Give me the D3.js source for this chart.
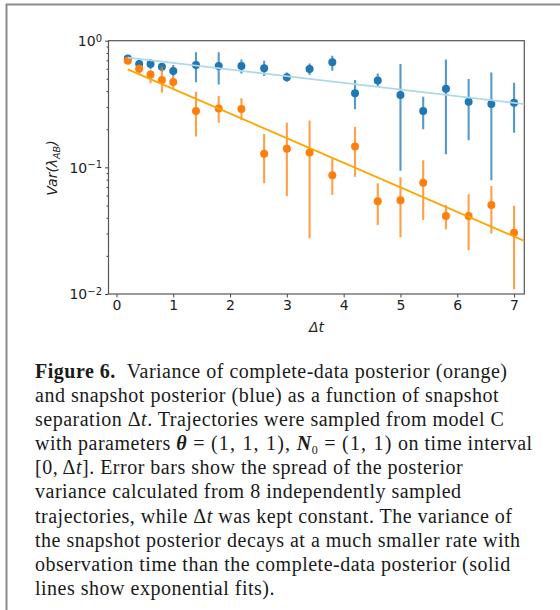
<!DOCTYPE html>
<html lang="en">
<head>
<meta charset="UTF-8">
<title>Figure 6</title>
<script src="https://d3js.org/d3.v7.min.js"></script>
<style>
body { margin: 0; background: #fff; }
#wrap { position: relative; width: 560px; height: 610px; overflow: hidden; }
svg { position: absolute; left: 0; top: 0; }
.axis path, .axis line { stroke: #444; }
.axis text { font-family: "DejaVu Sans", sans-serif; font-size: 14px; fill: #222; }
.caption { position: absolute; left: 35px; top: 359px; font-family: "Liberation Serif", "Times New Roman", serif;
  font-size: 20px; line-height: 24.1px; letter-spacing: 0.5px; color: #1a1a1a; white-space: nowrap; }
.caption b { font-weight: bold; }
.caption .eq { padding: 0 6px; }
.caption .tup { letter-spacing: 1.2px; }
.caption .sub { font-size: 12px; line-height: 0; vertical-align: -4px; }
</style>
</head>
<body>
<div id="wrap"></div>
<script>
// snapshot separation
var dt = [0.2, 0.4, 0.6, 0.8, 1.0, 1.4, 1.8, 2.2, 2.6, 3.0, 3.4, 3.8, 4.2, 4.6, 5.0, 5.4, 5.8, 6.2, 6.6, 7.0];

// snapshot posterior (blue)
var blueVar = [0.725, 0.654, 0.654, 0.623, 0.576, 0.643, 0.631, 0.631, 0.605, 0.514,
               0.597, 0.675, 0.384, 0.486, 0.372, 0.279, 0.418, 0.330, 0.316, 0.324];
var blueLo  = [0.695, 0.605, 0.594, 0.569, 0.520, 0.469, 0.452, 0.552, 0.526, 0.475,
               0.536, 0.580, 0.287, 0.433, 0.094, 0.200, 0.127, 0.164, 0.079, 0.188];
var blueHi  = [0.757, 0.703, 0.717, 0.662, 0.643, 0.809, 0.809, 0.712, 0.695, 0.562,
               0.662, 0.762, 0.489, 0.552, 0.654, 0.361, 0.712, 0.498, 0.562, 0.466];

// complete-data posterior (orange)
var orangeVar = [0.695, 0.601, 0.542, 0.489, 0.472, 0.279, 0.292, 0.289, 0.128, 0.140,
                 0.131, 0.0865, 0.146, 0.0539, 0.0549, 0.0757, 0.0413, 0.0413, 0.0504, 0.0305];
var orangeLo  = [0.662, 0.542, 0.461, 0.388, 0.421, 0.175, 0.225, 0.236, 0.0748, 0.0594,
                 0.0275, 0.0605, 0.0844, 0.0351, 0.0280, 0.0384, 0.0324, 0.0222, 0.0301, 0.0109];
var orangeHi  = [0.748, 0.643, 0.587, 0.623, 0.520, 0.396, 0.366, 0.351, 0.183, 0.225,
                 0.234, 0.118, 0.209, 0.0748, 0.0834, 0.114, 0.0504, 0.0612, 0.0713, 0.0498];

// exponential fits, end points
var fitT = [0.2, 7.3];
var blueFit = [0.734, 0.312];
var orangeFit = [0.594, 0.0249];

var xTicks = [0, 1, 2, 3, 4, 5, 6, 7];
var yTicks = [0.01, 0.1, 1];
var yTickExp = ["\u22122", "\u22121", "0"];

var width = 560, height = 610;
var plot = {left: 108.5, right: 524.3, top: 40.7, bottom: 294};

var svg = d3.select('#wrap').append('svg')
    .attr('width', width).attr('height', height);

// outer figure frame
svg.append('path')
   .attr('d', 'M6.5,' + height + 'V4.5H' + width)
   .attr('fill', 'none').attr('stroke', '#8a8a8a').attr('stroke-width', 2);

var xScale = d3.scaleLinear().domain([-0.14, 7.18]).range([plot.left, plot.right]);
var yScale = d3.scaleLog().domain([0.01, 1]).range([plot.bottom, plot.top]);

svg.append('clipPath').attr('id', 'clip')
   .append('rect')
   .attr('x', plot.left).attr('y', plot.top)
   .attr('width', plot.right - plot.left).attr('height', plot.bottom - plot.top);

// axes
var xAxis = d3.axisBottom(xScale).tickValues(xTicks).tickFormat(d3.format('d'))
    .tickSize(3.5).tickPadding(3);
svg.append('g').attr('class', 'axis')
   .attr('transform', 'translate(0,' + plot.bottom + ')')
   .call(xAxis)
   .call(function(g){ g.select('.domain').remove(); });

var minor = [];
[0.01, 0.1].forEach(function(d){ for (var k = 2; k <= 9; k++) minor.push(d * k); });
svg.append('g').attr('class', 'axis')
   .attr('transform', 'translate(' + plot.left + ',0)')
   .call(d3.axisLeft(yScale).tickValues(minor).tickSize(2).tickFormat(''))
   .call(function(g){ g.select('.domain').remove(); });

var yAxis = d3.axisLeft(yScale).tickValues(yTicks).tickSize(3.5).tickPadding(4).tickFormat('');
var yg = svg.append('g').attr('class', 'axis')
   .attr('transform', 'translate(' + plot.left + ',0)')
   .call(yAxis)
   .call(function(g){ g.select('.domain').remove(); });

yg.selectAll('.tick').append('text')
   .attr('x', -6.5).attr('dy', '0.35em')
   .attr('text-anchor', 'end')
   .each(function(d, i){
       var t = d3.select(this);
       t.append('tspan').text('10');
       t.append('tspan').attr('dy', '-0.45em').attr('font-size', '10px').text(yTickExp[i]);
   });

// frame
svg.append('rect')
   .attr('x', plot.left).attr('y', plot.top)
   .attr('width', plot.right - plot.left).attr('height', plot.bottom - plot.top)
   .attr('fill', 'none').attr('stroke', '#555').attr('stroke-width', 1.2);

// axis labels
svg.append('text')
   .attr('x', 316.5).attr('y', 332)
   .attr('text-anchor', 'middle')
   .attr('font-family', 'DejaVu Sans, sans-serif').attr('font-size', '14px')
   .attr('font-style', 'italic').attr('fill', '#222')
   .text('\u0394t');

var yl = svg.append('text')
   .attr('transform', 'translate(57,168) rotate(-90)')
   .attr('text-anchor', 'middle')
   .attr('font-family', 'DejaVu Sans, sans-serif').attr('font-size', '14px')
   .attr('font-style', 'italic').attr('fill', '#222');
yl.append('tspan').text('Var(\u03bb');
yl.append('tspan').attr('font-size', '9.5px').attr('dy', '3').text('AB');
yl.append('tspan').attr('dy', '-3').text(')');

// error bars + markers
function series(vals, lo, hi, color) {
    var g = svg.append('g').attr('clip-path', 'url(#clip)');
    g.selectAll('line').data(dt).enter().append('line')
     .attr('x1', function(d){ return xScale(d); })
     .attr('x2', function(d){ return xScale(d); })
     .attr('y1', function(d, i){ return yScale(lo[i]); })
     .attr('y2', function(d, i){ return yScale(hi[i]); })
     .attr('stroke', color).attr('stroke-opacity', 0.75).attr('stroke-width', 2.1);
    g.selectAll('circle').data(dt).enter().append('circle')
     .attr('cx', function(d){ return xScale(d); })
     .attr('cy', function(d, i){ return yScale(vals[i]); })
     .attr('r', 4)
     .attr('fill', color);
}
series(blueVar, blueLo, blueHi, '#1f77b4');
series(orangeVar, orangeLo, orangeHi, '#ff7f0e');

var line = d3.line()
    .x(function(d){ return xScale(d[0]); })
    .y(function(d){ return yScale(d[1]); });

svg.append('path')
   .datum(d3.zip(fitT, blueFit))
   .attr('clip-path', 'url(#clip)')
   .attr('d', line).attr('fill', 'none')
   .attr('stroke', '#add8e6').attr('stroke-width', 1.8);
svg.append('path')
   .datum(d3.zip(fitT, orangeFit))
   .attr('clip-path', 'url(#clip)')
   .attr('d', line).attr('fill', 'none')
   .attr('stroke', '#ffa500').attr('stroke-width', 1.8);

// caption
var captionLines = [
  '<b>Figure 6.</b> &nbsp;Variance of complete-data posterior (orange)',
  'and snapshot posterior (blue) as a function of snapshot',
  'separation &Delta;<i>t</i>. Trajectories were sampled from model C',
  'with parameters <b><i>&theta;</i></b><span class="eq">=</span><span class="tup">(1, 1, 1),</span> <b><i>N</i></b><span class="sub">0</span><span class="eq">=</span><span class="tup">(1, 1)</span> on time interval',
  '[0, &Delta;<i>t</i>]. Error bars show the spread of the posterior',
  'variance calculated from 8 independently sampled',
  'trajectories, while &Delta;<i>t</i> was kept constant. The variance of',
  'the snapshot posterior decays at a much smaller rate with',
  'observation time than the complete-data posterior (solid',
  'lines show exponential fits).'
];
d3.select('#wrap').append('div').attr('class', 'caption')
  .selectAll('div').data(captionLines).enter().append('div')
  .style('height', '24.1px')
  .html(function(d){ return d; });
</script>
</body>
</html>
